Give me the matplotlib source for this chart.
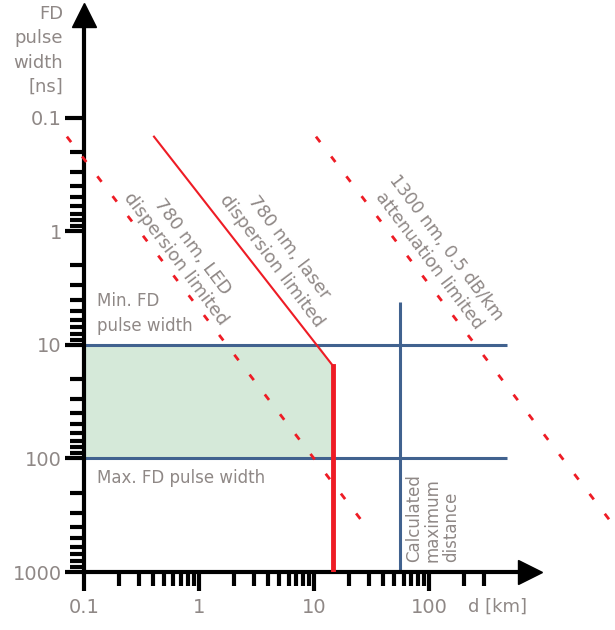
import numpy as np
import matplotlib
matplotlib.use("Agg")
import matplotlib.pyplot as plt
from matplotlib.ticker import NullFormatter

# axis ticks
x_major = [0.1, 1, 10, 100]
x_major_labels = ["0.1", "1", "10", "100"]
x_minor = [0.2, 0.3, 0.4, 0.5, 0.6, 0.7, 0.8, 0.9,
           2, 3, 4, 5, 6, 7, 8, 9,
           20, 30, 40, 50, 60, 70, 80, 90, 200, 300]
y_major = [0.1, 1, 10, 100, 1000]
y_major_labels = ["0.1", "1", "10", "100", "1000"]
y_minor = [m * d for d in [0.1, 1, 10, 100] for m in range(2, 10)]

# limit lines (d in km, pulse width in ns)
led_x = [0.071, 28.0]
led_y = [0.147, 390.0]
laser_x = [0.406, 14.6]
laser_y = [0.147, 15.3]
laser_cut_x = [14.6, 14.6]
laser_cut_y = [15.3, 1000.0]
atten_x = [10.4, 3900.0]
atten_y = [0.147, 372.0]

# pulse width window and calculated distance
pw_min = 10
pw_max = 100
pw_line_end = 478
calc_dist = 56
calc_top = 4.2

# shaded region under the laser limit
shade_x = [0.1, 11.0, 14.6, 14.6, 0.1]
shade_y = [pw_min, pw_min, 15.3, pw_max, pw_max]

red = "#ee1c25"
blue = "#41628f"
grey = "#8f8886"

fig = plt.figure(figsize=(6.15, 6.30), dpi=100)
ax = fig.add_axes([84 / 615, 58 / 630, 446 / 615, 557 / 630])
ax.set_xscale("log")
ax.set_yscale("log")
ax.set_xlim(0.1, 755)
ax.set_ylim(1000, 0.01249)

ax.fill(shade_x, shade_y, color="#d5e9d9", lw=0, zorder=1)

ax.hlines([pw_min, pw_max], 0.1, pw_line_end, color=blue, lw=2.2, zorder=2)
ax.vlines(calc_dist, calc_top, 1000, color=blue, lw=2.2, zorder=2)

ax.plot(led_x, led_y, color=red, lw=2, ls=(0, (2.5, 6.5)), clip_on=False, zorder=3)
ax.plot(atten_x, atten_y, color=red, lw=2, ls=(0, (2.5, 6.5)), clip_on=False, zorder=3)
ax.plot(laser_x, laser_y, color=red, lw=1.5, zorder=3)
ax.plot(laser_cut_x, laser_cut_y, color=red, lw=3.5, zorder=3)

# axes with arrow heads
for s in ["top", "right"]:
    ax.spines[s].set_visible(False)
for s in ["left", "bottom"]:
    ax.spines[s].set_linewidth(3)
ax.plot(1, 0, ">k", ms=17, transform=ax.transAxes, clip_on=False)
ax.plot(0, 1, "^k", ms=17, transform=ax.transAxes, clip_on=False)

ax.set_xticks(x_major)
ax.set_xticklabels(x_major_labels)
ax.set_xticks(x_minor, minor=True)
ax.set_yticks(y_major)
ax.set_yticklabels(y_major_labels)
ax.set_yticks(y_minor, minor=True)
ax.xaxis.set_minor_formatter(NullFormatter())
ax.yaxis.set_minor_formatter(NullFormatter())
ax.tick_params(which="major", length=14, width=3, color="k",
               labelsize=14, labelcolor=grey)
ax.tick_params(which="minor", length=10, width=3, color="k")
ax.tick_params(axis="x", which="major", pad=5)
ax.tick_params(axis="y", which="major", pad=2)

fig.text(63 / 615, 1 - 5 / 630, "FD\npulse\nwidth\n[ns]",
         ha="right", va="top", fontsize=13, color=grey, linespacing=1.45)
fig.text(497 / 615, 1 - 607 / 630, "d [km]", fontsize=13, color=grey,
         ha="center", va="center")

ax.text(0.13, 5.3, "Min. FD\npulse width", fontsize=12, color=grey,
        ha="left", va="center", linespacing=1.5)
ax.text(0.13, 150, "Max. FD pulse width", fontsize=12, color=grey,
        ha="left", va="center")

ax.text(0.74, 1.55, "780 nm, LED\ndispersion limited", fontsize=13, color=grey,
        rotation=-53, rotation_mode="anchor", ha="center", va="center",
        linespacing=1.25)
ax.text(5.1, 1.6, "780 nm, laser\ndispersion limited", fontsize=13, color=grey,
        rotation=-53, rotation_mode="anchor", ha="center", va="center",
        linespacing=1.25)
ax.text(118, 1.6, "1300 nm, 0.5 dB/km\nattenuation limited", fontsize=12.5,
        color=grey, rotation=-53, rotation_mode="anchor", ha="center",
        va="center", linespacing=1.25)

ax.text(108, 812, "Calculated\nmaximum\ndistance", fontsize=12, color=grey,
        rotation=90, ha="center", va="bottom", multialignment="left",
        linespacing=1.05)

fig.savefig("out.png", dpi=100)
